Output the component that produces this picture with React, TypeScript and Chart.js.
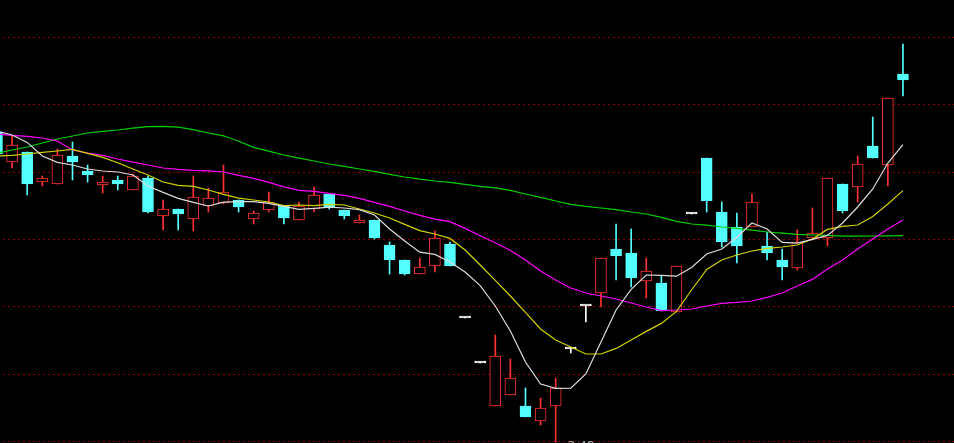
import React, { useEffect, useRef } from "react";
import { Chart, registerables } from "chart.js";

Chart.register(...registerables);

// ---- data (daily K-line, 61 sessions) ----
const opens = [
  4.03, 3.88, 3.93, 3.78, 3.77, 3.91, 3.835, 3.765, 3.79, 3.74,
  3.8, 3.61, 3.645, 3.595, 3.66, 3.675, 3.69, 3.595, 3.64, 3.66,
  3.59, 3.645, 3.72, 3.64, 3.575, 3.59, 3.465, 3.39, 3.32, 3.36,
  3.47, 3.1, 2.875, 2.66, 2.715, 2.66, 2.585, 2.66, 2.945, 3.16,
  3.225, 3.445, 3.425, 3.285, 3.275, 3.13, 3.62, 3.9, 3.63, 3.555,
  3.555, 3.46, 3.39, 3.35, 3.5, 3.5, 3.77, 3.755, 3.96, 3.865, 4.32,
];
const highs = [
  4.04, 4.01, 3.93, 3.81, 3.945, 3.98, 3.865, 3.81, 3.81, 3.82,
  3.81, 3.69, 3.645, 3.81, 3.75, 3.865, 3.69, 3.635, 3.73, 3.66,
  3.68, 3.755, 3.72, 3.64, 3.615, 3.59, 3.48, 3.39, 3.4, 3.535,
  3.48, 3.1, 2.875, 3.015, 2.895, 2.75, 2.7, 2.8, 2.95, 3.16,
  3.4, 3.57, 3.545, 3.4, 3.31, 3.36, 3.62, 3.9, 3.68, 3.625,
  3.72, 3.53, 3.445, 3.54, 3.65, 3.8, 3.77, 3.91, 4.105, 4.2, 4.47,
];
const lows = [
  3.91, 3.85, 3.715, 3.76, 3.77, 3.79, 3.78, 3.725, 3.74, 3.74,
  3.625, 3.54, 3.54, 3.535, 3.63, 3.67, 3.63, 3.57, 3.63, 3.57,
  3.59, 3.63, 3.645, 3.595, 3.575, 3.495, 3.32, 3.315, 3.32, 3.33,
  3.36, 3.1, 2.875, 2.66, 2.715, 2.605, 2.565, 2.48, 2.925, 3.08,
  3.155, 3.29, 3.255, 3.2, 3.135, 3.13, 3.62, 3.63, 3.455, 3.375,
  3.555, 3.39, 3.29, 3.34, 3.49, 3.46, 3.625, 3.68, 3.9, 3.76, 4.21,
];
const closes = [
  3.92, 3.965, 3.77, 3.8, 3.915, 3.88, 3.815, 3.78, 3.77, 3.81,
  3.63, 3.645, 3.62, 3.705, 3.7, 3.73, 3.655, 3.625, 3.68, 3.6,
  3.66, 3.715, 3.655, 3.61, 3.59, 3.5, 3.39, 3.32, 3.355, 3.5,
  3.36, 3.1, 2.875, 2.91, 2.8, 2.605, 2.65, 2.75, 2.945, 3.16,
  3.4, 3.41, 3.3, 3.335, 3.135, 3.36, 3.62, 3.685, 3.48, 3.46,
  3.68, 3.425, 3.355, 3.48, 3.525, 3.8, 3.635, 3.87, 3.9, 4.2, 4.29,
];
const ma5 = [
  4.035, 4.015, 3.978, 3.91, 3.878, 3.865, 3.845, 3.835, 3.83, 3.815,
  3.76, 3.728, 3.698, 3.678, 3.66, 3.679, 3.682, 3.682, 3.673, 3.658,
  3.643, 3.648, 3.654, 3.65, 3.642, 3.615, 3.545, 3.485, 3.429, 3.418,
  3.38, 3.33, 3.262, 3.16, 3.035, 2.88, 2.77, 2.748, 2.749, 2.82,
  2.98, 3.14, 3.243, 3.315, 3.313, 3.309, 3.353, 3.42, 3.445, 3.504,
  3.575, 3.545, 3.478, 3.474, 3.493, 3.513, 3.575, 3.655, 3.745, 3.875, 3.967,
];
const ma10 = [
  3.91, 3.913, 3.92, 3.928, 3.935, 3.943, 3.923, 3.903, 3.876, 3.845,
  3.815, 3.78, 3.763, 3.758, 3.74, 3.718, 3.699, 3.69, 3.68, 3.662,
  3.665, 3.662, 3.668, 3.665, 3.645, 3.625, 3.6, 3.568, 3.537, 3.52,
  3.498, 3.44, 3.365, 3.288, 3.21, 3.128, 3.045, 2.99, 2.955, 2.92,
  2.92, 2.948, 2.99, 3.033, 3.073, 3.133, 3.24, 3.343, 3.39, 3.415,
  3.435, 3.448, 3.455, 3.465, 3.495, 3.543, 3.558, 3.565, 3.608, 3.67, 3.737,
];
const ma20 = [
  4.02, 4.013, 4.008, 4.0, 3.985, 3.94, 3.925, 3.913, 3.895, 3.879,
  3.865, 3.85, 3.843, 3.838, 3.836, 3.83, 3.813, 3.798, 3.778, 3.756,
  3.738, 3.733, 3.723, 3.713, 3.698, 3.678, 3.658, 3.635, 3.613, 3.594,
  3.582, 3.548, 3.511, 3.476, 3.438, 3.39, 3.335, 3.29, 3.25, 3.225,
  3.21, 3.195, 3.175, 3.155, 3.137, 3.14, 3.145, 3.16, 3.173, 3.178,
  3.185, 3.203, 3.225, 3.26, 3.293, 3.345, 3.39, 3.445, 3.495, 3.545, 3.59,
];
const ma60 = [
  3.923, 3.94, 3.955, 3.975, 3.995, 4.01, 4.025, 4.033, 4.04, 4.049,
  4.057, 4.058, 4.054, 4.042, 4.025, 4.011, 3.984, 3.953, 3.934, 3.915,
  3.899, 3.885, 3.87, 3.858, 3.845, 3.833, 3.818, 3.805, 3.794, 3.785,
  3.778, 3.768, 3.758, 3.751, 3.738, 3.72, 3.703, 3.685, 3.668, 3.658,
  3.65, 3.642, 3.63, 3.62, 3.603, 3.583, 3.57, 3.564, 3.555, 3.548,
  3.539, 3.53, 3.524, 3.518, 3.515, 3.513, 3.509, 3.509, 3.51, 3.511, 3.512,
];
const gridPrices = [2.48, 2.817, 3.153, 3.49, 3.826, 4.163, 4.499];

const UP = "#ff3232";
const DOWN = "#54ffff";
const FLAT = "#ffffff";

const candleColor = (i: number) =>
  closes[i] > opens[i] ? UP : closes[i] < opens[i] ? DOWN : FLAT;

export default function App() {
  const canvasRef = useRef<HTMLCanvasElement | null>(null);

  useEffect(() => {
    document.body.style.margin = "0";
    document.body.style.background = "#000";
    const canvas = canvasRef.current;
    if (!canvas) return;

    const idx = opens.map((_, i) => i);
    const colors = idx.map(candleColor);

    const bgPlugin = {
      id: "bg",
      beforeDraw(chart: any) {
        const ctx = chart.ctx;
        ctx.save();
        ctx.fillStyle = "#000";
        ctx.fillRect(0, 0, chart.width, chart.height);
        ctx.restore();
      },
    };

    const gridPlugin = {
      id: "dotGrid",
      beforeDatasetsDraw(chart: any) {
        const { ctx, chartArea, scales } = chart;
        ctx.save();
        ctx.strokeStyle = "#8a0000";
        ctx.lineWidth = 1;
        ctx.setLineDash([2, 3]);
        gridPrices.forEach((p) => {
          const y = Math.round(scales.y.getPixelForValue(p)) - 0.5;
          ctx.beginPath();
          ctx.moveTo(chartArea.left + 3, y);
          ctx.lineTo(chartArea.right, y);
          ctx.stroke();
        });
        ctx.restore();
      },
    };

    const lowLabelPlugin = {
      id: "lowLabel",
      afterDatasetsDraw(chart: any) {
        const { ctx, scales } = chart;
        let li = 0;
        lows.forEach((v, i) => {
          if (v < lows[li]) li = i;
        });
        const x = scales.x.getPixelForValue(li);
        const y = scales.y.getPixelForValue(lows[li]);
        ctx.save();
        ctx.fillStyle = "#b0b0b0";
        ctx.font = "12px 'DejaVu Sans', sans-serif";
        ctx.textBaseline = "top";
        ctx.fillText("\u2190" + lows[li].toFixed(2), x + 2, y - 1);
        ctx.restore();
      },
    };

    const chart = new Chart(canvas, {
      type: "bar",
      data: {
        datasets: [
          {
            type: "line",
            label: "MA5",
            data: idx.map((i) => ({ x: i, y: ma5[i] })),
            borderColor: "#dcdcdc",
            borderWidth: 1.2,
            pointRadius: 0,
            tension: 0,
            order: 0,
          },
          {
            type: "line",
            label: "MA10",
            data: idx.map((i) => ({ x: i, y: ma10[i] })),
            borderColor: "#d2d200",
            borderWidth: 1.2,
            pointRadius: 0,
            tension: 0,
            order: 0,
          },
          {
            type: "line",
            label: "MA20",
            data: idx.map((i) => ({ x: i, y: ma20[i] })),
            borderColor: "#ff00ff",
            borderWidth: 1.2,
            pointRadius: 0,
            tension: 0,
            order: 0,
          },
          {
            type: "line",
            label: "MA60",
            data: idx.map((i) => ({ x: i, y: ma60[i] })),
            borderColor: "#00d000",
            borderWidth: 1.2,
            pointRadius: 0,
            tension: 0,
            order: 0,
          },
          {
            type: "bar",
            label: "body",
            data: idx.map((i) => ({ x: i, y: [opens[i], closes[i]] })) as any,
            backgroundColor: idx.map((i) => (colors[i] === UP ? "#000" : colors[i])),
            borderColor: colors,
            borderWidth: 1,
            borderSkipped: false,
            barThickness: 11,
            minBarLength: 2,
            grouped: false,
            order: 1,
          } as any,
          {
            type: "bar",
            label: "wick",
            data: idx.map((i) => ({ x: i, y: [lows[i], highs[i]] })) as any,
            backgroundColor: colors,
            borderWidth: 0,
            barThickness: 1,
            minBarLength: 1,
            grouped: false,
            order: 2,
          } as any,
        ],
      },
      options: {
        animation: false,
        responsive: false,
        devicePixelRatio: 1,
        layout: { padding: 0 },
        events: [],
        scales: {
          x: { type: "linear", min: 0.199, max: 63.38, offset: false, bounds: "data", display: false },
          y: { type: "linear", min: 2.475, max: 4.69, display: false },
        },
        plugins: {
          legend: { display: false },
          tooltip: { enabled: false },
        },
      },
      plugins: [bgPlugin, gridPlugin, lowLabelPlugin],
    });

    return () => chart.destroy();
  }, []);

  return (
    <div style={{ width: 954, height: 443, background: "#000", overflow: "hidden" }}>
      <canvas ref={canvasRef} width={954} height={443} style={{ display: "block" }} />
    </div>
  );
}
